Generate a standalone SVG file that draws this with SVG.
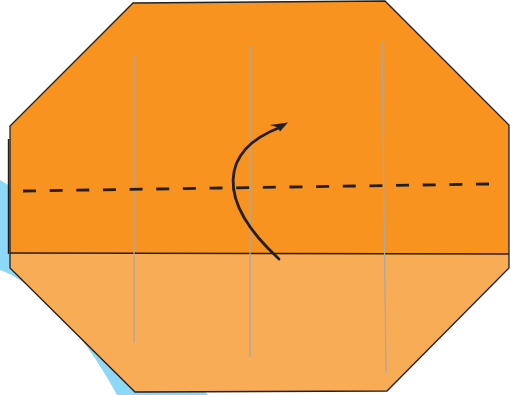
<svg xmlns="http://www.w3.org/2000/svg" width="510" height="395" viewBox="0 0 510 395">
  <style>
    .edge { fill: none; stroke: #231F20; stroke-width: 1.3; stroke-linejoin: miter; }
    .crease { fill: none; stroke: #A7A9AC; stroke-width: 1.3; }
    .valley { fill: none; stroke: #231F20; stroke-width: 2.8; stroke-dasharray: 13 13.65; }
    .arrow { fill: none; stroke: #231F20; stroke-width: 2.8; stroke-linecap: round; }
  </style>
  <rect width="510" height="395" fill="#ffffff"/>
  <g id="background-sheet">
    <path d="M0,180 L40,204 L208,395 L117,395 C80,325 30,280 0,270 Z" fill="#8DD7F7"/>
  </g>
  <g id="paper">
    <polygon points="10,253 509,254 509,268 387,391 135,392 10,268" fill="#F9AC56"/>
    <polygon points="133,3 385,1 509,125 509,254 10,253 10,126" fill="#F7931E"/>
    <line x1="8.6" y1="139" x2="8.6" y2="254" stroke="#231F20" stroke-width="1.6"/>
    <line x1="10" y1="253" x2="509" y2="254" class="edge"/>
    <polygon points="133,3 385,1 509,125 509,268 387,391 135,392 10,268 10,126" class="edge"/>
  </g>
  <g id="creases">
    <line x1="134" y1="56" x2="134" y2="343" class="crease"/>
    <line x1="250" y1="45" x2="250" y2="357" class="crease"/>
    <line x1="382" y1="41" x2="386" y2="373" class="crease"/>
  </g>
  <g id="connectors">
    <line x1="23" y1="191" x2="489" y2="184" class="valley"/>
    <path d="M279,259 C215,200 220,150 281,127" class="arrow"/>
    <polygon points="270,125 288,122.5 280,131.5 278,127.5" fill="#231F20"/>
  </g>
</svg>
